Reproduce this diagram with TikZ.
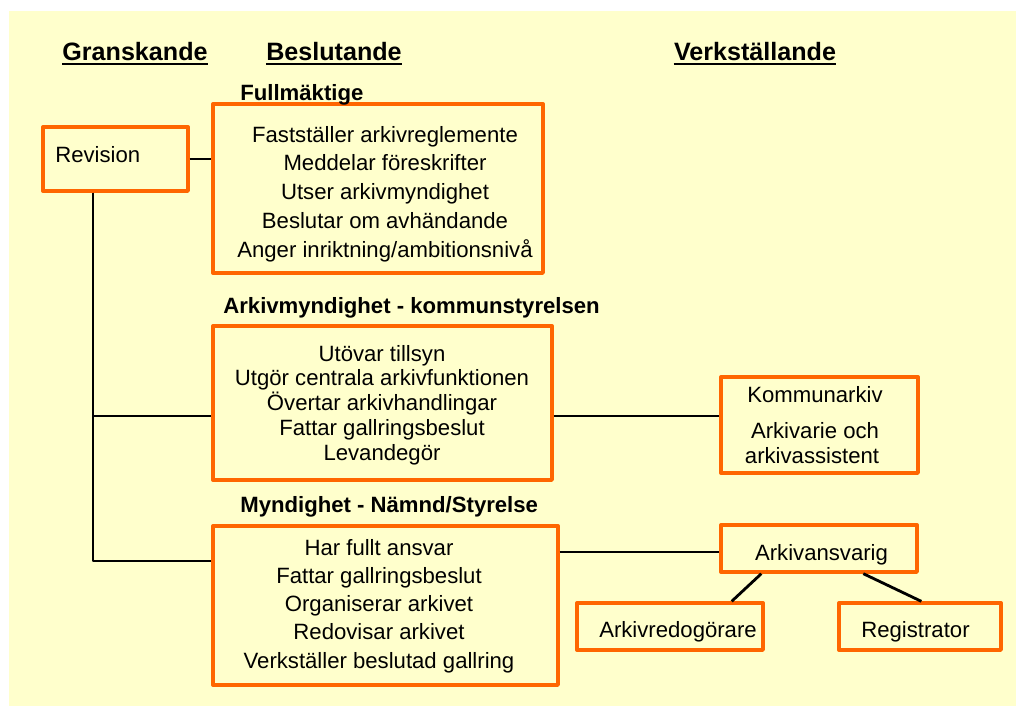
\documentclass[tikz,border=0pt]{standalone}
\usepackage{fontspec}
\setmainfont{Liberation Sans}
\usetikzlibrary{positioning,calc,fit}
\definecolor{bakgrund}{RGB}{255,255,204}
\definecolor{ram}{RGB}{255,102,0}
\tikzset{
  ruta/.style={draw=ram, line width=1.9pt, inner sep=0pt},
  rad/.style={anchor=base, inner sep=0pt, font=\fontsize{12.6}{15}\selectfont},
  grupp/.style={anchor=base west, inner sep=0pt, font=\fontsize{12.6}{15}\selectfont\bfseries},
  rubrik/.style={anchor=base, inner sep=0pt, font=\fontsize{14.3}{17}\selectfont\bfseries},
  linje/.style={line width=1.6pt}
}
\begin{document}
\begin{tikzpicture}[x=0.02cm, y=-0.02cm, line join=round]
	\useasboundingbox (0,0) rectangle (1016,706);
	\fill[bakgrund] (9,11) rectangle (1016,706);
	% Rubriker
	\node[rubrik] (gransk) at (135,61) {Granskande};
	\node[rubrik] (beslut) at (334,61) {Beslutande};
	\node[rubrik] (verkst) at (755,61) {Verkställande};
	\foreach \r in {gransk,beslut,verkst}
		\draw[line width=1.2pt] ([yshift=-1.8pt]\r.base west) -- ([yshift=-1.8pt]\r.base east);
	% Rutor
	\node[ruta, fit={(43,127) (188,191)}] (revision) {};
	\node[ruta, fit={(213,104) (543,273)}] (fullm) {};
	\node[ruta, fit={(213,326) (552,480)}] (arkmyn) {};
	\node[ruta, fit={(213,526) (558,685)}] (namnd) {};
	\node[ruta, fit={(721,377) (918,473)}] (kommun) {};
	\node[ruta, fit={(721,525) (917,572)}] (ansvarig) {};
	\node[ruta, fit={(577,603) (763,650)}] (redog) {};
	\node[ruta, fit={(839,603) (1001,650)}] (registr) {};
	% Texter
	\node[rad, anchor=base west] (revtext) at (55,162) {Revision};
	\node[grupp] (fulltext) at (240,100) {Fullmäktige};
	\node[grupp] (arkmyntext) at (223,313) {Arkivmyndighet - kommunstyrelsen};
	\node[grupp] (namndtext) at (240,512) {Myndighet - Nämnd/Styrelse};
	\foreach \r [count=\i from 0] in {Fastställer arkivreglemente, Meddelar föreskrifter, Utser arkivmyndighet, Beslutar om avhändande, {Anger inriktning/ambitionsnivå}}
		\node[rad] (f\i) at (385,142+28.75*\i) {\r};
	\foreach \r [count=\i from 0] in {Utövar tillsyn, Utgör centrala arkivfunktionen, Övertar arkivhandlingar, Fattar gallringsbeslut, Levandegör}
		\node[rad] (a\i) at (382,361+24.75*\i) {\r};
	\foreach \r [count=\i from 0] in {Har fullt ansvar, Fattar gallringsbeslut, Organiserar arkivet, Redovisar arkivet, Verkställer beslutad gallring}
		\node[rad] (m\i) at (379,555+28.25*\i) {\r};
	\node[rad] (k0) at (815,402) {Kommunarkiv};
	\node[rad] (k1) at (815,438) {Arkivarie och};
	\node[rad] (k2) at (812,463) {arkivassistent};
	\node[rad] (anstext) at (821.5,560) {Arkivansvarig};
	\node[rad] (redtext) at (678,637) {Arkivredogörare};
	\node[rad] (regtext) at (915.5,637) {Registrator};
	% Linjer
	\coordinate (stam) at (93,0);
	\coordinate (mitt) at (0,416);
	\coordinate (nere) at (0,561);
	\coordinate (hoger) at (0,552);
	\draw[linje] (revision.east) -- (revision.east -| fullm.west);
	\draw[linje] (revision.south -| stam) |- (arkmyn.west |- mitt);
	\draw[linje] (revision.south -| stam) |- (namnd.west |- nere);
	\draw[linje] (arkmyn.east |- mitt) -- (kommun.west |- mitt);
	\draw[linje] (namnd.east |- hoger) -- (ansvarig.west |- hoger);
	\draw[linje] ($(ansvarig.south west)+(42,0)$) -- ($(redog.north east)+(-33,0)$);
	\draw[linje] ($(ansvarig.south west)+(144,0)$) -- ($(registr.north west)+(84,0)$);
\end{tikzpicture}
\end{document}
